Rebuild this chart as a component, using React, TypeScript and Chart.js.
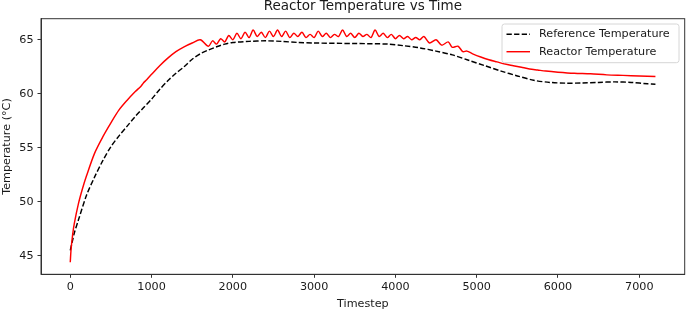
import React, { useEffect, useRef } from "react";
import { Chart, registerables } from "chart.js";

Chart.register(...registerables);

const TITLE = "Reactor Temperature vs Time";
const X_LABEL = "Timestep";
const Y_LABEL = "Temperature (°C)";
const X_TICKS = [0, 1000, 2000, 3000, 4000, 5000, 6000, 7000];
const Y_TICKS = [45, 50, 55, 60, 65];

const REF_LABEL = "Reference Temperature";
const refT = [0, 25, 50, 100, 200, 300, 400, 500, 600, 700, 800, 900, 1000, 1100, 1200, 1300, 1400, 1500, 1600, 1700, 1800, 1900, 2000, 2200, 2400, 2600, 2800, 3000, 3500, 3900, 4100, 4300, 4500, 4700, 4900, 5100, 5300, 5500, 5700, 5900, 6100, 6300, 6500, 6700, 6900, 7100, 7199];
const refV = [45.5, 46.3, 47.1, 48.3, 50.6, 52.3, 53.8, 55.1, 56.1, 57.0, 57.9, 58.7, 59.5, 60.4, 61.2, 61.9, 62.5, 63.2, 63.7, 64.05, 64.35, 64.6, 64.75, 64.85, 64.9, 64.85, 64.75, 64.7, 64.65, 64.6, 64.45, 64.25, 63.95, 63.6, 63.1, 62.6, 62.1, 61.65, 61.25, 61.05, 60.98, 61.0, 61.05, 61.1, 61.05, 60.92, 60.88];

const REACTOR_LABEL = "Reactor Temperature";
const reactorT = [0, 10, 30, 50, 100, 150, 200, 300, 400, 500, 600, 700, 800, 870, 900, 940, 1000, 1100, 1200, 1300, 1400, 1500, 1600, 1700,
  1750, 1800, 1850, 1900, 1950, 2000, 2050, 2100, 2150, 2200, 2250, 2300, 2350, 2400, 2450, 2500, 2550, 2600, 2650, 2700, 2750, 2800, 2850, 2900, 2950, 3000,
  3050, 3100, 3150, 3200, 3250, 3300, 3350, 3400, 3450, 3500, 3550, 3600, 3650, 3700, 3750, 3800, 3850, 3900, 3950, 4000,
  4050, 4100, 4150, 4200, 4250, 4300, 4350, 4420, 4500, 4570, 4650, 4700, 4770, 4830, 4880, 4950, 5050, 5150, 5250, 5350, 5450, 5550, 5650, 5750, 5850, 6000, 6200, 6400, 6600, 6800, 7000, 7199];
const reactorV = [44.4, 45.6, 47.0, 48.0, 49.8, 51.2, 52.4, 54.5, 56.0, 57.3, 58.5, 59.4, 60.2, 60.7, 61.0, 61.3, 61.8, 62.6, 63.3, 63.9, 64.35, 64.7, 65.0, 64.4,
  64.9, 64.6, 65.1, 64.8, 65.4, 65.0, 65.6, 65.1, 65.7, 65.2, 65.9, 65.3, 65.7, 65.2, 65.8, 65.3, 65.9, 65.3, 65.8, 65.2, 65.6, 65.3, 65.7, 65.2, 65.5, 65.2,
  65.8, 65.3, 65.6, 65.2, 65.5, 65.3, 65.9, 65.3, 65.6, 65.2, 65.6, 65.3, 65.5, 65.2, 65.9, 65.3, 65.6, 65.2, 65.5, 65.1,
  65.4, 65.1, 65.3, 65.0, 65.2, 65.0, 65.3, 64.7, 65.0, 64.5, 64.8, 64.3, 64.4, 63.9, 63.95, 63.7, 63.4, 63.15, 62.95, 62.75, 62.6, 62.45, 62.3, 62.2, 62.1, 62.0, 61.9, 61.85, 61.75, 61.7, 61.65, 61.6];

const FONT = "'DejaVu Sans', sans-serif";
const TXT = 11.2;

export default function App() {
  const ref = useRef<HTMLCanvasElement | null>(null);

  useEffect(() => {
    document.body.style.margin = "0";
    const canvas = ref.current!;
    const frame = {
      id: "frame",
      afterDatasetsDraw(chart: any) {
        const { ctx, chartArea: a } = chart;
        ctx.save();
        ctx.strokeStyle = "#333";
        ctx.lineWidth = 1;
        ctx.strokeRect(a.left, a.top, a.right - a.left, a.bottom - a.top);
        // legend
        const bx = 502, by = 24, bw = 177, bh = 38.7, r = 2.5;
        ctx.beginPath();
        ctx.moveTo(bx + r, by);
        ctx.arcTo(bx + bw, by, bx + bw, by + bh, r);
        ctx.arcTo(bx + bw, by + bh, bx, by + bh, r);
        ctx.arcTo(bx, by + bh, bx, by, r);
        ctx.arcTo(bx, by, bx + bw, by, r);
        ctx.closePath();
        ctx.fillStyle = "rgba(255,255,255,0.8)";
        ctx.fill();
        ctx.strokeStyle = "#d6d6d6";
        ctx.lineWidth = 1;
        ctx.stroke();
        const ds = chart.data.datasets;
        const rows = [ds[1], ds[0]];
        rows.forEach((d: any, i: number) => {
          const y = 34.3 + i * 17.4;
          ctx.beginPath();
          ctx.strokeStyle = d.borderColor;
          ctx.lineWidth = d.borderWidth;
          ctx.setLineDash(d.borderDash || []);
          ctx.moveTo(506.5, y);
          ctx.lineTo(530, y);
          ctx.stroke();
          ctx.setLineDash([]);
          ctx.fillStyle = "#1a1a1a";
          ctx.font = `${TXT}px ${FONT}`;
          ctx.textBaseline = "middle";
          ctx.textAlign = "left";
          ctx.fillText(d.label, 539, y);
        });
        ctx.restore();
      },
    };

    const chart = new Chart(canvas, {
      type: "line",
      data: {
        datasets: [
          {
            label: REACTOR_LABEL,
            data: reactorT.map((t, i) => ({ x: t, y: reactorV[i] })),
            borderColor: "#ff0000",
            borderWidth: 1.45,
            pointRadius: 0,
            tension: 0.3,
            order: 0,
          },
          {
            label: REF_LABEL,
            data: refT.map((t, i) => ({ x: t, y: refV[i] })),
            borderColor: "#000000",
            borderWidth: 1.45,
            borderDash: [5.3, 2.3],
            pointRadius: 0,
            tension: 0.3,
            order: 1,
          },
        ],
      },
      options: {
        animation: false,
        responsive: false,
        devicePixelRatio: 1,
        layout: { padding: { left: 0, right: 1.3, top: 0, bottom: 0 } },
        plugins: {
          legend: { display: false },
          tooltip: { enabled: false },
          title: {
            display: true,
            text: TITLE,
            fullSize: false,
            color: "#1a1a1a",
            font: { family: FONT, size: 13.5, weight: "normal" as any, lineHeight: 1.0 },
            padding: { top: 0, bottom: 5.2 },
          },
        },
        scales: {
          x: {
            type: "linear",
            min: -360,
            max: 7559,
            afterBuildTicks: (s: any) => {
              s.ticks = X_TICKS.map((v) => ({ value: v }));
            },
            afterFit: (s: any) => {
              s.height = 36.7;
            },
            grid: { drawOnChartArea: false, drawTicks: true, tickLength: 3.5, color: "#333", lineWidth: 1 },
            border: { display: true, color: "#333", width: 1 },
            ticks: { color: "#1a1a1a", padding: 3, maxRotation: 0, font: { family: FONT, size: TXT }, callback: (v: any) => String(v) },
            title: { display: true, text: X_LABEL, color: "#1a1a1a", font: { family: FONT, size: TXT }, padding: 0 },
          },
          y: {
            type: "linear",
            min: 43.28,
            max: 66.95,
            afterBuildTicks: (s: any) => {
              s.ticks = Y_TICKS.map((v) => ({ value: v }));
            },
            afterFit: (s: any) => {
              s.width = 41;
            },
            grid: { drawOnChartArea: false, drawTicks: true, tickLength: 3.5, color: "#333", lineWidth: 1 },
            border: { display: true, color: "#333", width: 1 },
            ticks: { color: "#1a1a1a", padding: 4, font: { family: FONT, size: TXT }, callback: (v: any) => String(v) },
            title: { display: true, text: Y_LABEL, color: "#1a1a1a", font: { family: FONT, size: TXT }, padding: 0 },
          },
        },
      },
      plugins: [frame],
    });
    return () => chart.destroy();
  }, []);

  return (
    <div style={{ width: 686, height: 311, background: "#fff" }}>
      <canvas ref={ref} width={686} height={311} style={{ width: 686, height: 311, display: "block" }} />
    </div>
  );
}
